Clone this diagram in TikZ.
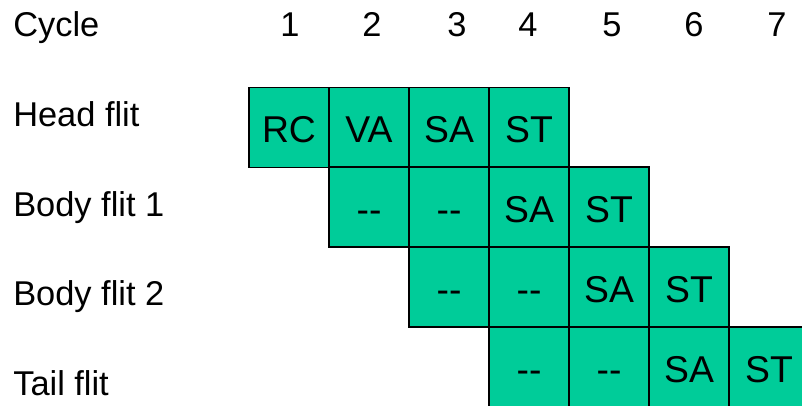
\documentclass[tikz,border=0pt]{standalone}
\usepackage{fontspec}
\setmainfont{Liberation Sans}[Ligatures=NoCommon]
\usetikzlibrary{positioning}
\definecolor{stagegreen}{HTML}{00CC99}
\tikzstyle{stage} = [rectangle, draw=black, line width=1pt, fill=stagegreen,
minimum width=60pt, minimum height=60pt, inner sep=0pt,
text height=22.5pt, text depth=0pt,
font=\fontsize{28}{32}\selectfont, text centered]
\tikzstyle{rowlabel} = [anchor=base west, inner sep=0pt, font=\fontsize{25.8}{30}\selectfont]
\tikzstyle{cyclenum} = [anchor=base, inner sep=0pt, font=\fontsize{25.8}{30}\selectfont]

\begin{document}
\begin{tikzpicture}[x=0.75pt, y=-0.75pt]
\clip (0,0) rectangle (802,406);

% Header
\node[rowlabel] (cycle) at (13,37) {Cycle};
\node[cyclenum] (c1) at (290,37) {1};
\node[cyclenum] (c2) at (372,37) {2};
\node[cyclenum] (c3) at (457,37) {3};
\node[cyclenum] (c4) at (528,37) {4};
\node[cyclenum] (c5) at (612,37) {5};
\node[cyclenum] (c6) at (694,37) {6};
\node[cyclenum] (c7) at (777,37) {7};

% Row labels
\node[rowlabel] (head) at (13,127) {Head flit};
\node[rowlabel] (body1) at (13,216) {Body flit 1};
\node[rowlabel] (body2) at (13,305) {Body flit 2};
\node[rowlabel] (tail) at (13,395) {Tail flit};

% Head flit stages
\node[stage] (h1) at (289,127.5) {RC};
\node[stage] (h2) at (369,127.5) {VA};
\node[stage] (h3) at (449,127.5) {SA};
\node[stage] (h4) at (529,127.5) {ST};

% Body flit 1 stages
\node[stage] (b1) at (369,207) {-{}-};
\node[stage] (b2) at (449,207) {-{}-};
\node[stage] (b3) at (529,207) {SA};
\node[stage] (b4) at (609,207) {ST};

% Body flit 2 stages
\node[stage] (d1) at (449,287) {-{}-};
\node[stage] (d2) at (529,287) {-{}-};
\node[stage] (d3) at (609,287) {SA};
\node[stage] (d4) at (689,287) {ST};

% Tail flit stages
\node[stage] (t1) at (529,367) {-{}-};
\node[stage] (t2) at (609,367) {-{}-};
\node[stage] (t3) at (689,367) {SA};
\node[stage] (t4) at (769,367) {ST};

\end{tikzpicture}
\end{document}
